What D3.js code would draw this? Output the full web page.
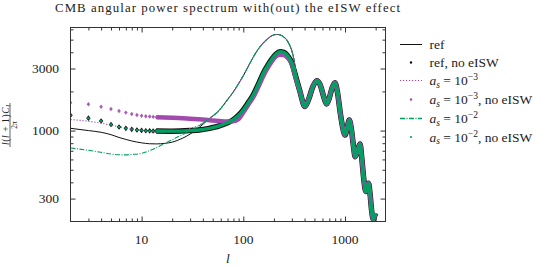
<!DOCTYPE html>
<html><head><meta charset="utf-8">
<script src="https://cdn.jsdelivr.net/npm/d3@7"></script>
<style>
body{margin:0;background:#fff;}
text{font-family:"Liberation Serif","Times New Roman",serif;fill:#222;}
</style></head>
<body><svg id="c" width="551" height="267"></svg>
<script>
// ---------- data ----------
const titleText = "CMB angular power spectrum with(out) the eISW effect";
const xMajorTicks = [10, 100, 1000];
const xMinorTicks = [3,4,5,6,7,8,9,20,30,40,50,60,70,80,90,200,300,400,500,600,700,800,900,2000];
const yMajorTicks = [300, 1000, 3000];
const yMinorTicks = [400,500,600,700,800,900,2000,4000,5000,6000];

// shared acoustic tail (all models coincide here)
const tailL = [361,403,440,480,527,570,620,658,700,750,796,840,900,950,1000,1050,1101,1160,1210,1258,1330,1405,1460,1530,1601,1650,1700,1760,1830,1897,1950,2003];
const tailD = [1990,1530,1750,2150,2415,2250,1800,1600,1780,2150,2330,2000,1350,1050,925,1050,1206,1000,760,630,700,790,620,420,340,360,394,330,240,207,220,232];

// thin curves with eISW, shared middle part
const eiswMidL = [70,79,90,100,112,125,140,157,175,197,213,230,248,266,285,300,315,330];
const eiswMidD = [1730,1960,2300,2640,3120,3660,4220,4710,5110,5420,5480,5440,5260,5000,4550,4100,3500,2800];

// ref (with eISW), low l
const refLowL = [2,3,4,5,6,7,8,10,12,14,17,20,25,30,37,45,58];
const refLowD = [1041,1000,970,930,885,855,832,805,792,790,798,815,870,940,1060,1210,1430];
// a_s = 1e-3 (with eISW), low l
const as3LowL = [2,3,4,5,6,8,10,13,16,20,25,30,37,45,58];
const as3LowD = [1215,1180,1140,1100,1070,1030,1005,975,965,970,1000,1040,1100,1225,1430];
// a_s = 1e-2 (with eISW), low l
const as2LowL = [2,3,4,5,6,7,8,10,13,16,20,25,32,40,50,58];
const as2LowD = [735,705,680,660,652,650,655,668,720,780,850,930,1015,1140,1290,1440];

// no-eISW, individual multipoles (l = 2..14)
const ptsL = [2,3,4,5,6,7,8,9,10,11,12,13,14];
const refNoPts = [1311,1246,1185,1115,1065,1040,1022,1010,1003,998,995,993,992];
const as3NoPts = [1640,1595,1525,1465,1415,1375,1342,1318,1300,1290,1282,1275,1268];
const as2NoPts = [1311,1246,1185,1115,1065,1040,1022,1010,1003,998,995,993,992];
// no-eISW, dense multipoles (l >= 14) seen as a band
const bandL = [14,20,30,37,45,58,70,79,90,100,112,125,140,157,175,190,210,229,250,270,300,330];
const refNoBand = [992,990,1000,1010,1035,1085,1150,1206,1310,1440,1640,1876,2250,2753,3200,3526,3880,4036,3990,3800,3300,2550];
const as2NoBand = [992,990,1000,1010,1035,1085,1150,1206,1310,1440,1640,1876,2250,2753,3200,3526,3880,4036,3990,3800,3300,2550];
const as3NoBand = [1268,1255,1235,1220,1205,1185,1175,1180,1230,1380,1580,1800,2150,2620,3060,3380,3720,3830,3800,3650,3250,2500];

const legendLabels = ["ref", "ref, no eISW", "a_s = 10^{-3}", "a_s = 10^{-3}, no eISW", "a_s = 10^{-2}", "a_s = 10^{-2}, no eISW"];

// ---------- drawing ----------
const C_PURPLE = "#a24aad", C_GREEN = "#00a060", C_BLACK = "#111";
const svg = d3.select("#c");
const x = d3.scaleLog().domain([2, 2500]).range([70.5, 385.5]);
const y = d3.scaleLog().domain([200, 6200]).range([221.5, 27.5]);

const zip = (L, D) => L.map((l, i) => [l, D[i]]);
const line = d3.line().x(d => x(d[0])).y(d => y(d[1])).curve(d3.curveMonotoneX);

const refSer = zip(refLowL, refLowD).concat(zip(eiswMidL, eiswMidD), zip(tailL, tailD));
const as3Ser = zip(as3LowL, as3LowD).concat(zip(eiswMidL, eiswMidD), zip(tailL, tailD));
const as2Ser = zip(as2LowL, as2LowD).concat(zip(eiswMidL, eiswMidD), zip(tailL, tailD));
const refNoSer = zip(bandL, refNoBand).concat(zip(tailL, tailD));
const as3NoSer = zip(bandL, as3NoBand).concat(zip(tailL, tailD));
const as2NoSer = zip(bandL, as2NoBand).concat(zip(tailL, tailD));

const plot = svg.append("g");
plot.append("defs").append("clipPath").attr("id","clip").append("rect")
  .attr("x",70.5).attr("y",27.5).attr("width",315).attr("height",194);
const P = plot.append("g").attr("clip-path","url(#clip)");

const diamond = (cx, cy, w, h) => `M${cx},${cy-h}L${cx+w},${cy}L${cx},${cy+h}L${cx-w},${cy}Z`;

// ref
P.append("path").datum(refSer).attr("d", line).attr("fill","none").attr("stroke",C_BLACK).attr("stroke-width",1);
// ref, no eISW
P.append("path").datum(refNoSer).attr("d", line).attr("fill","none").attr("stroke",C_BLACK).attr("stroke-width",5.5);
P.selectAll(".rp").data(zip(ptsL, refNoPts)).join("path").attr("d", d => diamond(x(d[0]), y(d[1]), 2.2, 2.8)).attr("fill", C_BLACK);
// a_s = 1e-3
P.append("path").datum(as3Ser).attr("d", line).attr("fill","none").attr("stroke",C_PURPLE).attr("stroke-width",1.1).attr("stroke-dasharray","1.2,1.8");
// a_s = 1e-3, no eISW
P.append("path").datum(as3NoSer).attr("d", line).attr("fill","none").attr("stroke",C_PURPLE).attr("stroke-width",4.5);
P.selectAll(".pp").data(zip(ptsL, as3NoPts)).join("path").attr("d", d => diamond(x(d[0]), y(d[1]), 1.8, 2.2)).attr("fill", C_PURPLE).attr("opacity",0.9);
// a_s = 1e-2
P.append("path").datum(as2Ser).attr("d", line).attr("fill","none").attr("stroke",C_GREEN).attr("stroke-width",1.1).attr("stroke-dasharray","5,1.5,1,1.5");
// a_s = 1e-2, no eISW
P.append("path").datum(as2NoSer).attr("d", line).attr("fill","none").attr("stroke",C_GREEN).attr("stroke-width",3.4);
P.selectAll(".gp").data(zip(ptsL, as2NoPts)).join("circle").attr("cx", d => x(d[0])).attr("cy", d => y(d[1])).attr("r",1.2).attr("fill", C_GREEN);

// ---------- axes ----------
const axC = "#333";
function styleAxis(g){ g.select(".domain").remove(); g.selectAll(".tick line").attr("stroke",axC).attr("stroke-width",1); g.selectAll("text").remove(); }
svg.append("g").attr("transform","translate(0,221.5)").call(d3.axisBottom(x).tickValues(xMajorTicks).tickSize(-5).tickFormat("")).call(styleAxis);
svg.append("g").attr("transform","translate(0,221.5)").call(d3.axisBottom(x).tickValues(xMinorTicks).tickSize(-3).tickFormat("")).call(styleAxis);
svg.append("g").attr("transform","translate(0,27.5)").call(d3.axisTop(x).tickValues(xMajorTicks).tickSize(-5).tickFormat("")).call(styleAxis);
svg.append("g").attr("transform","translate(0,27.5)").call(d3.axisTop(x).tickValues(xMinorTicks).tickSize(-3).tickFormat("")).call(styleAxis);
svg.append("g").attr("transform","translate(70.5,0)").call(d3.axisLeft(y).tickValues(yMajorTicks).tickSize(-5).tickFormat("")).call(styleAxis);
svg.append("g").attr("transform","translate(70.5,0)").call(d3.axisLeft(y).tickValues(yMinorTicks).tickSize(-3).tickFormat("")).call(styleAxis);
svg.append("g").attr("transform","translate(385.5,0)").call(d3.axisRight(y).tickValues(yMajorTicks).tickSize(-5).tickFormat("")).call(styleAxis);
svg.append("g").attr("transform","translate(385.5,0)").call(d3.axisRight(y).tickValues(yMinorTicks).tickSize(-3).tickFormat("")).call(styleAxis);
svg.append("rect").attr("x",70.5).attr("y",27.5).attr("width",315).attr("height",194).attr("fill","none").attr("stroke",axC).attr("stroke-width",1);

// tick labels
svg.selectAll(".xl").data(xMajorTicks).join("text").attr("x", d => x(d)).attr("y", 244).attr("text-anchor","middle").attr("font-size",13.5).text(d => d);
svg.selectAll(".yl").data(yMajorTicks).join("text").attr("x", 59).attr("y", d => y(d) + 4.5).attr("text-anchor","end").attr("font-size",13.5).text(d => d);

// title
svg.append("text").attr("x",227.5).attr("y",12).attr("text-anchor","middle").attr("font-size",12.8).attr("textLength",345).attr("lengthAdjust","spacing").text(titleText);
// x label
svg.append("text").attr("x",228).attr("y",263).attr("text-anchor","middle").attr("font-size",13.5).attr("font-style","italic").text("l");
// y label (fraction)
const yl = svg.append("g").attr("transform","translate(10.5,125) rotate(-90)");
const num = yl.append("text").attr("x",0).attr("y",-2).attr("text-anchor","middle").attr("font-size",9.5).attr("textLength",40).attr("lengthAdjust","spacing");
num.append("tspan").attr("font-style","italic").text("l");
num.append("tspan").text("(");
num.append("tspan").attr("font-style","italic").text("l");
num.append("tspan").text(" + 1)");
num.append("tspan").attr("font-style","italic").text("C");
num.append("tspan").attr("font-style","italic").attr("font-size",6.5).attr("dy",1.5).text("l");
yl.append("line").attr("x1",-22).attr("x2",22).attr("y1",-0.5).attr("y2",-0.5).attr("stroke","#222").attr("stroke-width",0.7);
yl.append("text").attr("x",0).attr("y",6.5).attr("text-anchor","middle").attr("font-size",7.5).text("2π");

// ---------- legend ----------
const legY = [44.5, 62.5, 80.5, 99.5, 118.5, 137];
const lg = svg.append("g");
function legText(i){
  const t = lg.append("text").attr("x",429.5).attr("y",legY[i]+4.5).attr("font-size",13.5);
  const lab = legendLabels[i];
  if (lab.startsWith("a_s")) {
    const m = lab.match(/^a_s = 10\^\{(.+?)\}(.*)$/);
    t.append("tspan").attr("font-style","italic").text("a");
    t.append("tspan").attr("font-style","italic").attr("font-size",9.5).attr("dy",2.5).text("s");
    t.append("tspan").attr("dy",-2.5).text(" = 10");
    t.append("tspan").attr("font-size",9.5).attr("dy",-5).text(m[1].replace("-","−"));
    t.append("tspan").attr("dy",5).text(m[2]);
  } else t.text(lab);
}
lg.append("line").attr("x1",400).attr("x2",422).attr("y1",legY[0]).attr("y2",legY[0]).attr("stroke",C_BLACK).attr("stroke-width",1);
lg.append("path").attr("d",diamond(411,legY[1],1.4,1.8)).attr("fill",C_BLACK);
lg.append("line").attr("x1",400).attr("x2",422).attr("y1",legY[2]).attr("y2",legY[2]).attr("stroke",C_PURPLE).attr("stroke-width",1.1).attr("stroke-dasharray","1.2,1.8");
lg.append("circle").attr("cx",411).attr("cy",legY[3]).attr("r",1.2).attr("fill",C_PURPLE);
lg.append("line").attr("x1",400).attr("x2",422).attr("y1",legY[4]).attr("y2",legY[4]).attr("stroke",C_GREEN).attr("stroke-width",1.3).attr("stroke-dasharray","5,1.5,1,1.5");
lg.append("circle").attr("cx",411).attr("cy",legY[5]).attr("r",1.1).attr("fill",C_GREEN);
legendLabels.forEach((_, i) => legText(i));
</script></body></html>
